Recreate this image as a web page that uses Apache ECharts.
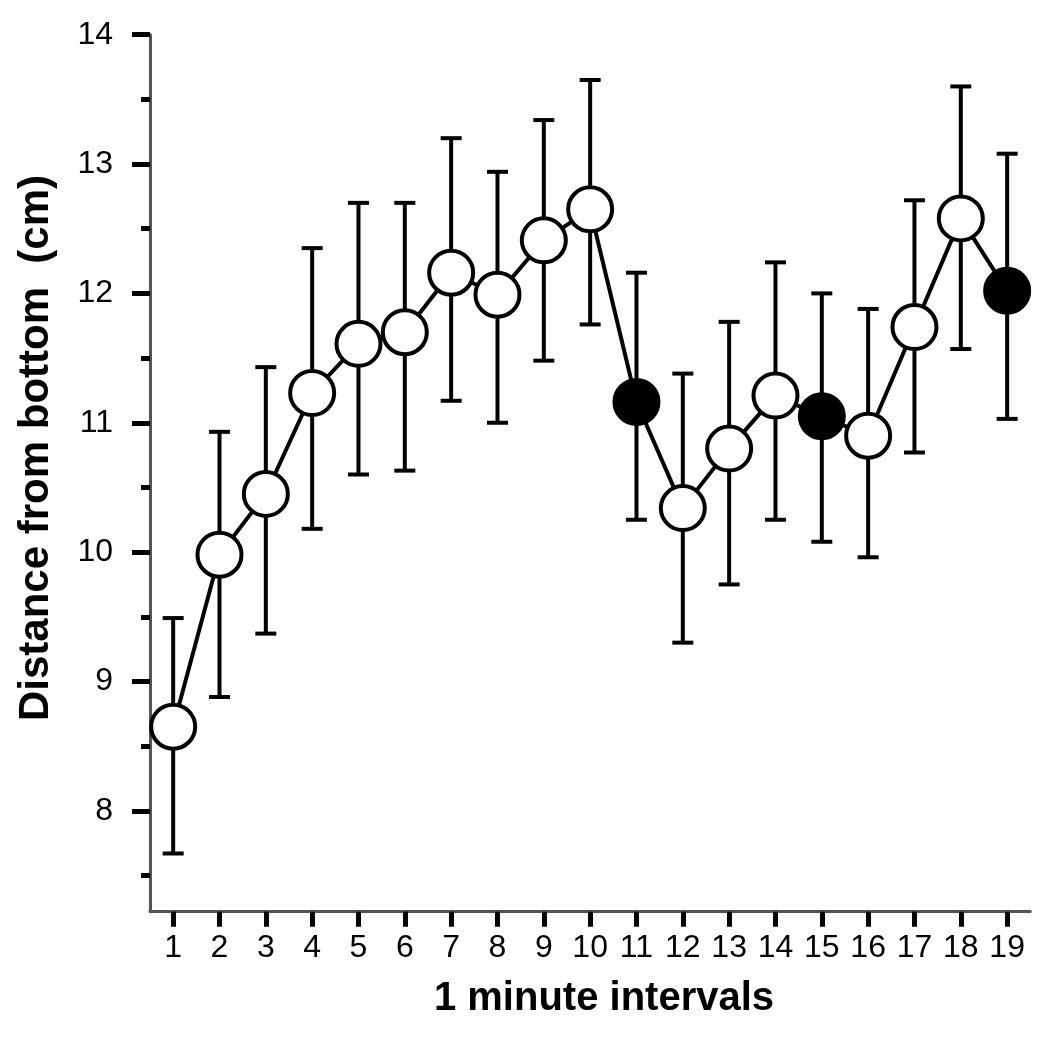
<!DOCTYPE html>
<html>
<head>
<meta charset="utf-8">
<script src="https://cdn.jsdelivr.net/npm/echarts@6/dist/echarts.min.js"></script>
<style>
html,body{margin:0;padding:0;background:#fff;}
#chart{width:1050px;height:1041px;}
</style>
</head>
<body>
<div id="chart"></div>
<script>
// ---- data ----
var categories = ['1','2','3','4','5','6','7','8','9','10','11','12','13','14','15','16','17','18','19'];
var means = [8.65, 9.98, 10.45, 11.23, 11.61, 11.70, 12.16, 11.99, 12.41, 12.65, 11.16, 10.34, 10.80, 11.21, 11.05, 10.90, 11.74, 12.58, 12.02];
var upper = [9.49, 10.93, 11.43, 12.35, 12.70, 12.70, 13.20, 12.94, 13.34, 13.65, 12.16, 11.38, 11.78, 12.24, 12.00, 11.88, 12.72, 13.60, 13.08];
var lower = [7.67, 8.88, 9.37, 10.18, 10.60, 10.63, 11.17, 11.00, 11.48, 11.76, 10.25, 9.30, 9.75, 10.25, 10.08, 9.96, 10.77, 11.57, 11.03];
var filledIntervals = ['11', '15', '19'];
var yMajorTicks = [8, 9, 10, 11, 12, 13, 14];
var yMinorTicks = [7.5, 8.5, 9.5, 10.5, 11.5, 12.5, 13.5];
var xTitle = '1 minute intervals';
var yTitle = 'Distance from bottom  (cm)';

// ---- build ----
var FONT = "'Liberation Sans', Arial, Helvetica, sans-serif";
var lineData = means.map(function (v, i) {
  var filled = filledIntervals.indexOf(categories[i]) >= 0;
  return { value: v, itemStyle: { color: filled ? '#000' : '#fff' } };
});
var errData = categories.map(function (c, i) { return [i, lower[i], upper[i]]; });

var chart = echarts.init(document.getElementById('chart'), null, { renderer: 'canvas' });
var yMin = 7.22, yMax = 14;
chart.setOption({
  animation: false,
  backgroundColor: '#fff',
  grid: { left: 150, right: 19.7, top: 34.7, bottom: 129.3, containLabel: false },
  xAxis: {
    type: 'category',
    data: categories,
    boundaryGap: true,
    axisLine: { show: true, lineStyle: { color: '#555', width: 3 } },
    axisTick: { show: true, alignWithLabel: true, length: 15, lineStyle: { color: '#000', width: 5 } },
    axisLabel: { show: true, fontSize: 32, fontFamily: FONT, color: '#000', margin: 20, interval: 0 },
    splitLine: { show: false }
  },
  yAxis: [{
    type: 'value',
    min: yMin, max: yMax,
    axisLine: { show: true, lineStyle: { color: '#555', width: 3 } },
    axisTick: { show: true, length: 18, customValues: yMajorTicks, lineStyle: { color: '#000', width: 5 } },
    axisLabel: { show: true, customValues: yMajorTicks, fontSize: 32, fontFamily: FONT, color: '#000', margin: 37 },
    splitLine: { show: false }
  }, {
    type: 'value',
    position: 'left',
    min: yMin, max: yMax,
    axisLine: { show: false },
    axisTick: { show: true, length: 9, customValues: yMinorTicks, lineStyle: { color: '#000', width: 5 } },
    axisLabel: { show: false },
    splitLine: { show: false }
  }],
  graphic: [{
    type: 'text', x: 604, y: 999, z: 10,
    style: { text: xTitle, font: 'bold 40px ' + FONT, fill: '#000', align: 'center', verticalAlign: 'middle' }
  }, {
    type: 'text', x: 36, y: 448, rotation: Math.PI / 2, z: 10,
    style: { text: yTitle, font: 'bold 42px ' + FONT, fill: '#000', align: 'center', verticalAlign: 'middle' }
  }],
  series: [{
    type: 'custom',
    name: 'error',
    z: 1,
    data: errData,
    renderItem: function (params, api) {
      var x = api.value(0);
      var lo = api.coord([x, api.value(1)]);
      var hi = api.coord([x, api.value(2)]);
      var hw = 10.5;
      var st = { stroke: '#000', lineWidth: 4 };
      return {
        type: 'group',
        children: [
          { type: 'line', shape: { x1: lo[0], y1: lo[1], x2: hi[0], y2: hi[1] }, style: st },
          { type: 'line', shape: { x1: hi[0] - hw, y1: hi[1], x2: hi[0] + hw, y2: hi[1] }, style: st },
          { type: 'line', shape: { x1: lo[0] - hw, y1: lo[1], x2: lo[0] + hw, y2: lo[1] }, style: st }
        ]
      };
    }
  }, {
    type: 'line',
    name: 'mean',
    z: 2,
    data: lineData,
    symbol: 'circle',
    symbolSize: 44,
    showAllSymbol: true,
    lineStyle: { color: '#000', width: 4 },
    itemStyle: { borderColor: '#000', borderWidth: 4 }
  }]
});
</script>
</body>
</html>
